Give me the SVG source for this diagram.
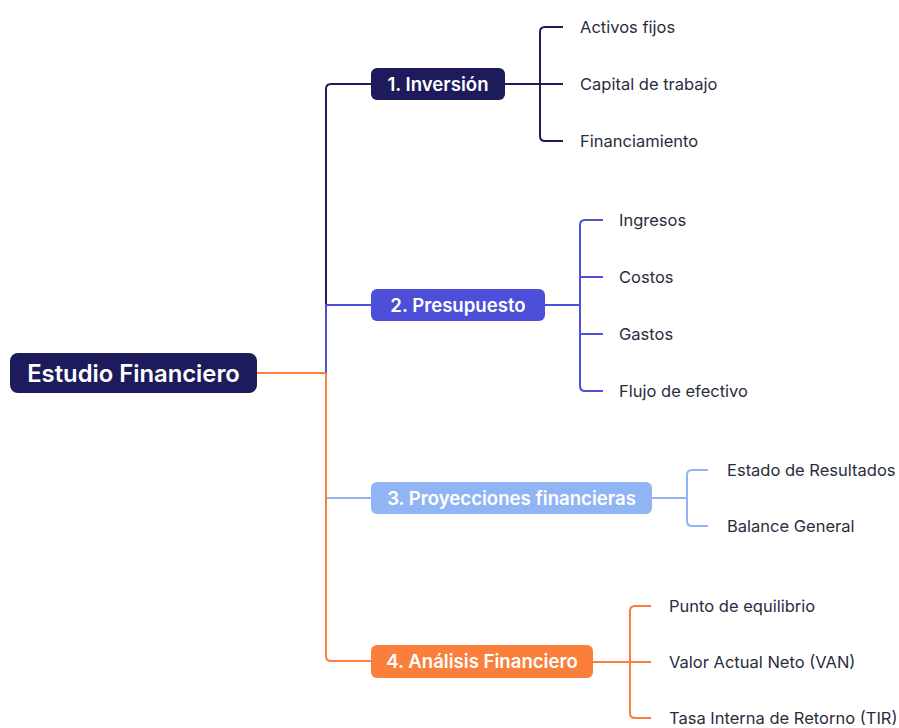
<svg xmlns="http://www.w3.org/2000/svg" width="899" height="728" viewBox="0 0 899 728">
<style>
.c{fill:none;stroke-width:2;stroke-linejoin:round}
.b{font-family:Inter,"Noto Sans",sans-serif;font-weight:600;fill:#ffffff}
.t{font-family:Inter,"Noto Sans",sans-serif;font-size:16.5px;fill:#2a2d3e}
.navy{stroke:#1e1b5c}.pur{stroke:#4d4fd9}.lb{stroke:#91b5f4}.or{stroke:#f97f3a}
</style>
<rect width="899" height="728" fill="#ffffff"/>
<g id="connectors">
<path class="c navy" d="M326 373 V89 Q326 84 331 84 H371"/>
<path class="c pur" d="M326 373 V305 H371"/>
<path class="c lb" d="M326 373 V498 H371"/>
<path class="c or" d="M326 373 V656 Q326 661 331 661 H371"/>
<path class="c or" d="M257 373 H326"/>
<path class="c navy" d="M505 84 H563 M563 27 H545 Q540 27 540 32 V136 Q540 141 545 141 H563"/>
<path class="c pur" d="M545 305 H580 M603 220 H585 Q580 220 580 225 V386 Q580 391 585 391 H603 M580 277 H603 M580 334 H603"/>
<path class="c lb" d="M652 498 H687 M708 470 H692 Q687 470 687 475 V521 Q687 526 692 526 H708"/>
<path class="c or" d="M593 662 H651 M651 606 H635 Q630 606 630 611 V713 Q630 718 635 718 H651"/>
</g>
<g id="root">
<rect x="10" y="353" width="247" height="40" rx="8" fill="#1e1b5c"/>
<text class="b" x="133.5" y="381.5" font-size="23.8" text-anchor="middle">Estudio Financiero</text>
</g>
<g id="n1">
<rect x="371" y="68" width="134" height="32" rx="6" fill="#1e1b5c"/>
<text class="b" x="438" y="90.5" font-size="18.6" text-anchor="middle">1. Inversión</text>
</g>
<g id="n2">
<rect x="371" y="289" width="174" height="32" rx="6" fill="#4d4fd9"/>
<text class="b" x="458" y="311.5" font-size="18.6" text-anchor="middle">2. Presupuesto</text>
</g>
<g id="n3">
<rect x="371" y="482" width="281" height="32" rx="6" fill="#91b5f4"/>
<text class="b" x="511.5" y="504.5" font-size="18.6" text-anchor="middle">3. Proyecciones financieras</text>
</g>
<g id="n4">
<rect x="371" y="645" width="222" height="33" rx="6" fill="#f97f3a"/>
<text class="b" x="482" y="668" font-size="18.6" text-anchor="middle">4. Análisis Financiero</text>
</g>
<g id="leaves1">
<text class="t" x="580" y="33">Activos fijos</text>
<text class="t" x="580" y="90">Capital de trabajo</text>
<text class="t" x="580" y="147">Financiamiento</text>
</g>
<g id="leaves2">
<text class="t" x="619" y="226">Ingresos</text>
<text class="t" x="619" y="283">Costos</text>
<text class="t" x="619" y="340">Gastos</text>
<text class="t" x="619" y="397">Flujo de efectivo</text>
</g>
<g id="leaves3">
<text class="t" x="727" y="476">Estado de Resultados</text>
<text class="t" x="727" y="532">Balance General</text>
</g>
<g id="leaves4">
<text class="t" x="669" y="612">Punto de equilibrio</text>
<text class="t" x="669" y="668">Valor Actual Neto (VAN)</text>
<text class="t" x="669" y="724">Tasa Interna de Retorno (TIR)</text>
</g>
</svg>
